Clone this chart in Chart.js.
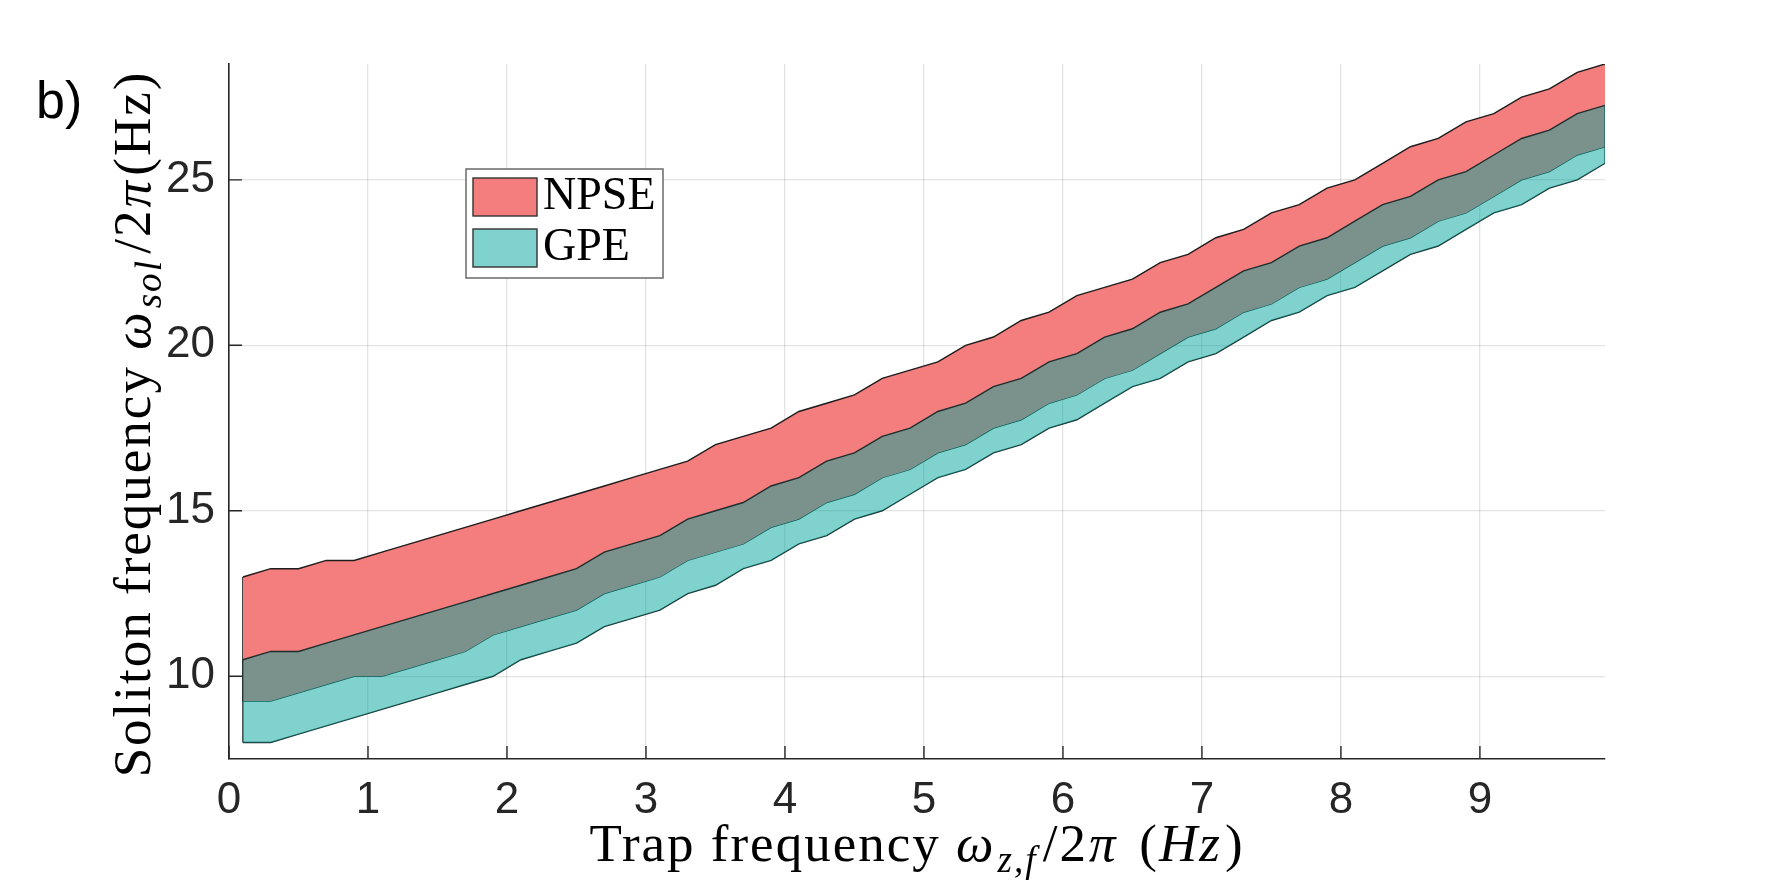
<!DOCTYPE html>
<html>
<head>
<meta charset="utf-8">
<script src="https://cdn.jsdelivr.net/npm/chart.js@4.4.0/dist/chart.umd.min.js"></script>
<style>
html, body { margin: 0; padding: 0; background: #fff; }
canvas { display: block; }
</style>
</head>
<body>
<canvas id="bandChart" width="1775" height="886"></canvas>
<script>
// trap frequency samples (Hz)
const trapFreq = [0.1,0.3,0.5,0.7,0.9,1.1,1.3,1.5,1.7,1.9,
                  2.1,2.3,2.5,2.7,2.9,3.1,3.3,3.5,3.7,3.9,
                  4.1,4.3,4.5,4.7,4.9,5.1,5.3,5.5,5.7,5.9,
                  6.1,6.3,6.5,6.7,6.9,7.1,7.3,7.5,7.7,7.9,
                  8.1,8.3,8.5,8.7,8.9,9.1,9.3,9.5,9.7,9.9];

// soliton frequency bands (Hz): NPSE and GPE ranges overlap
const npseUpper = [13,13.25,13.25,13.5,13.5,13.75,14,14.25,14.5,14.75,
                   15,15.25,15.5,15.75,16,16.25,16.5,17,17.25,17.5,
                   18,18.25,18.5,19,19.25,19.5,20,20.25,20.75,21,
                   21.5,21.75,22,22.5,22.75,23.25,23.5,24,24.25,24.75,
                   25,25.5,26,26.25,26.75,27,27.5,27.75,28.25,28.5];
const npseLower = [9.25,9.25,9.5,9.75,10,10,10.25,10.5,10.75,11.25,
                   11.5,11.75,12,12.5,12.75,13,13.5,13.75,14,14.5,
                   14.75,15.25,15.5,16,16.25,16.75,17,17.5,17.75,18.25,
                   18.5,19,19.25,19.75,20.25,20.5,21,21.25,21.75,22,
                   22.5,23,23.25,23.75,24,24.5,25,25.25,25.75,26];
const gpeUpper  = [10.5,10.75,10.75,11,11.25,11.5,11.75,12,12.25,12.5,
                   12.75,13,13.25,13.75,14,14.25,14.75,15,15.25,15.75,
                   16,16.5,16.75,17.25,17.5,18,18.25,18.75,19,19.5,
                   19.75,20.25,20.5,21,21.25,21.75,22.25,22.5,23,23.25,
                   23.75,24.25,24.5,25,25.25,25.75,26.25,26.5,27,27.25];
const gpeLower  = [8,8,8.25,8.5,8.75,9,9.25,9.5,9.75,10,
                   10.5,10.75,11,11.5,11.75,12,12.5,12.75,13.25,13.5,
                   14,14.25,14.75,15,15.5,16,16.25,16.75,17,17.5,
                   17.75,18.25,18.75,19,19.5,19.75,20.25,20.75,21,21.5,
                   21.75,22.25,22.75,23,23.5,24,24.25,24.75,25,25.5];

const xTickValues = [0,1,2,3,4,5,6,7,8,9];
const yTickValues = [10,15,20,25];
const seriesNames = ['NPSE', 'GPE'];

const axisColor = '#262626';
const gridColor = 'rgba(38,38,38,0.13)';
const npseFill = 'rgb(244,125,125)';
const gpeFill = 'rgba(0,166,156,0.5)';
const npseEdge = '#1c1c1c';
const gpeEdge = '#1e2f2e';
const serif = '"Liberation Serif", "Times New Roman", serif';
const sans = '"Liberation Sans", Arial, sans-serif';

const toPoints = ys => trapFreq.map((x, i) => ({ x: x, y: ys[i] }));
const last = trapFreq.length - 1;
const sideEdge = (i, a, b) => [{ x: trapFreq[i], y: a[i] }, { x: trapFreq[i], y: b[i] }];

function band(label, data, fill, color, edge, order) {
    return {
        label: label, data: data, fill: fill,
        backgroundColor: color, borderColor: edge,
        borderWidth: 1.4, pointRadius: 0, tension: 0, order: order
    };
}

// --- inward tick marks (MATLAB style) ---
const inwardTicks = {
    id: 'inwardTicks',
    beforeDatasetsDraw(chart) {
        const { ctx, chartArea, scales } = chart;
        const len = 13;
        ctx.save();
        ctx.strokeStyle = axisColor;
        ctx.lineWidth = 1.4;
        ctx.beginPath();
        xTickValues.forEach(v => {
            const px = scales.x.getPixelForValue(v);
            ctx.moveTo(px, chartArea.bottom);
            ctx.lineTo(px, chartArea.bottom - len);
        });
        yTickValues.forEach(v => {
            const py = scales.y.getPixelForValue(v);
            ctx.moveTo(chartArea.left, py);
            ctx.lineTo(chartArea.left + len, py);
        });
        ctx.stroke();
        ctx.restore();
    }
};

// draw a line of mixed text (regular / italic / subscript)
function drawRich(ctx, parts, cx, cy, size) {
    let total = 0;
    ctx.letterSpacing = '2px';
    parts.forEach(p => {
        const s = p.sub ? size * 0.7 : size;
        p.font = (p.it ? 'italic ' : '') + s + 'px ' + serif;
        ctx.font = p.font;
        p.w = ctx.measureText(p.t).width + (p.gap || 0) * size;
        total += p.w;
    });
    let x = cx - total / 2;
    ctx.textAlign = 'left';
    ctx.textBaseline = 'alphabetic';
    parts.forEach(p => {
        ctx.font = p.font;
        ctx.fillText(p.t, x, cy + (p.sub ? size * 0.2 : 0));
        x += p.w;
    });
    ctx.letterSpacing = '0px';
}

const annotations = {
    id: 'annotations',
    afterDraw(chart) {
        const { ctx, chartArea } = chart;
        ctx.save();
        ctx.fillStyle = '#000';

        // x-axis title
        const xMid = (chartArea.left + chartArea.right) / 2;
        drawRich(ctx, [
            { t: 'Trap frequency ' },
            { t: 'ω', it: true, gap: 0.04 },
            { t: 'z,f', it: true, sub: true, gap: 0.1 },
            { t: '/2', gap: 0.02 },
            { t: 'π', it: true, gap: 0.12 },
            { t: ' (' },
            { t: 'Hz', it: true, gap: 0.06 },
            { t: ')' }
        ], xMid, 861, 53);

        // y-axis title (rotated)
        ctx.save();
        ctx.translate(150, 424);
        ctx.rotate(-Math.PI / 2);
        drawRich(ctx, [
            { t: 'Soliton frequency ' },
            { t: 'ω', it: true, gap: 0.04 },
            { t: 'sol', it: true, sub: true, gap: 0.1 },
            { t: '/2', gap: 0.02 },
            { t: 'π', it: true, gap: 0.06 },
            { t: '(Hz)' }
        ], 0, 0, 53);
        ctx.restore();

        // panel label
        ctx.font = '52px ' + sans;
        ctx.textAlign = 'left';
        ctx.textBaseline = 'alphabetic';
        ctx.fillText('b)', 36, 118);

        // legend
        const lx = 466, ly = 169, lw = 197, lh = 109;
        ctx.fillStyle = '#fff';
        ctx.fillRect(lx, ly, lw, lh);
        ctx.strokeStyle = '#6a6a6a';
        ctx.lineWidth = 1.5;
        ctx.strokeRect(lx, ly, lw, lh);
        const fills = [npseFill, gpeFill];
        seriesNames.forEach((name, i) => {
            const sy = 178 + i * 51;
            ctx.fillStyle = fills[i];
            ctx.fillRect(473, sy, 64, 38);
            ctx.strokeStyle = '#333';
            ctx.lineWidth = 1.4;
            ctx.strokeRect(473, sy, 64, 38);
            ctx.fillStyle = '#000';
            ctx.font = '46px ' + serif;
            ctx.fillText(name, 543, sy + 31);
        });
        ctx.restore();
    }
};

const tickFont = { family: sans, size: 44 };

new Chart(document.getElementById('bandChart'), {
    type: 'line',
    data: {
        datasets: [
            band('GPE', toPoints(gpeUpper), '+1', gpeFill, gpeEdge, 0),
            band('GPE lower', toPoints(gpeLower), false, gpeFill, gpeEdge, 0),
            band('NPSE', toPoints(npseUpper), '+1', npseFill, npseEdge, 1),
            band('NPSE lower', toPoints(npseLower), false, npseFill, npseEdge, 1),
            band('GPE left', sideEdge(0, gpeUpper, gpeLower), false, gpeFill, gpeEdge, 0),
            band('GPE right', sideEdge(last, gpeUpper, gpeLower), false, gpeFill, gpeEdge, 0),
            band('NPSE left', sideEdge(0, npseUpper, npseLower), false, npseFill, npseEdge, 1),
            band('NPSE right', sideEdge(last, npseUpper, npseLower), false, npseFill, npseEdge, 1)
        ]
    },
    options: {
        responsive: false,
        animation: false,
        layout: { padding: { top: 64, right: 170, left: 0, bottom: 0 } },
        plugins: {
            legend: { display: false },
            tooltip: { enabled: false }
        },
        scales: {
            x: {
                type: 'linear', min: 0, max: 9.9,
                afterBuildTicks: s => { s.ticks = xTickValues.map(v => ({ value: v })); },
                afterFit: s => { s.height = 127; },
                grid: { color: gridColor, lineWidth: 1.3, drawTicks: false },
                border: { color: axisColor, width: 1.6 },
                ticks: { color: axisColor, font: tickFont, padding: 15, maxRotation: 0, autoSkip: false }
            },
            y: {
                type: 'linear', min: 7.5, max: 28.5,
                afterBuildTicks: s => { s.ticks = yTickValues.map(v => ({ value: v })); },
                afterFit: s => { s.width = 229; },
                grid: { color: gridColor, lineWidth: 1.3, drawTicks: false },
                border: { color: axisColor, width: 1.6 },
                ticks: { color: axisColor, font: tickFont, padding: 14, autoSkip: false }
            }
        }
    },
    plugins: [inwardTicks, annotations]
});
</script>
</body>
</html>
